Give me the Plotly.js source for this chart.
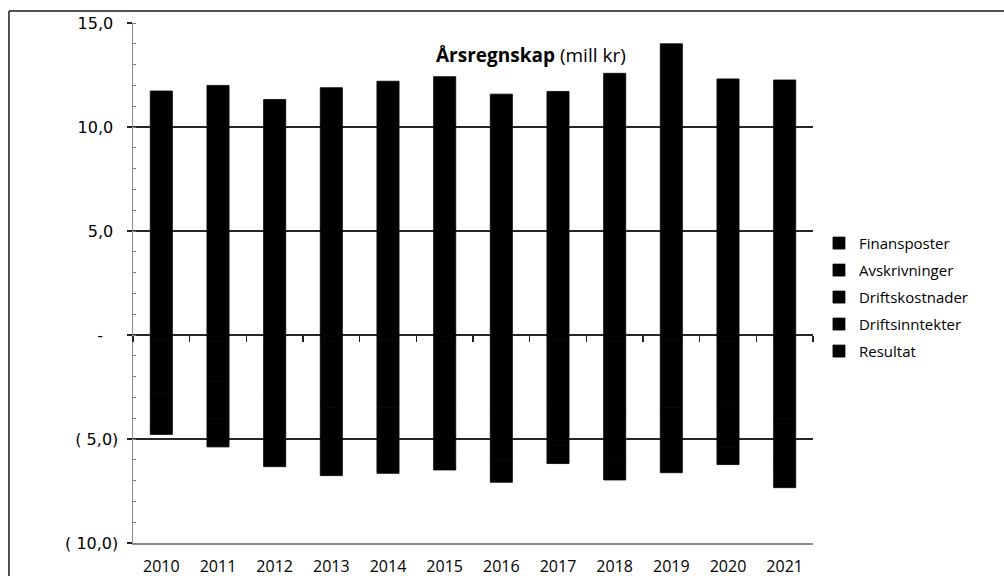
<!DOCTYPE html>
<html>
<head>
<meta charset="utf-8">
<script src="https://cdn.plot.ly/plotly-3.0.1.min.js"></script>
<style>html,body{margin:0;padding:0;background:#fff;}#chart{width:1004px;height:576px;}</style>
</head>
<body>
<div id="chart"></div>
<script>
// ---- data (mill kr) ----
const years = ['2010','2011','2012','2013','2014','2015','2016','2017','2018','2019','2020','2021'];
const resultat        = [-0.20, -0.30, -0.40, -0.30, -0.20, -0.30, -0.40, -0.20, -0.30, -0.20, -0.30, -0.40];
const driftsinntekter = [11.73, 12.00, 11.32, 11.89, 12.20, 12.42, 11.58, 11.71, 12.58, 14.00, 12.31, 12.26];
const driftskostnader = [-2.60, -1.95, -2.60, -3.20, -3.30, -3.00, -3.40, -3.10, -3.50, -3.30, -3.10, -3.60];
const avskrivninger   = [-1.50, -1.75, -2.00, -2.10, -2.00, -2.30, -2.20, -2.00, -2.10, -2.20, -2.00, -2.20];
const finansposter    = [-0.48, -1.38, -1.33, -1.16, -1.15, -0.89, -1.08, -0.88, -1.07, -0.92, -0.83, -1.14];
const yTickVals  = [15, 10, 5, 0, -5, -10];
const yTickText  = ['15,0\u00a0', '10,0\u00a0', '5,0\u00a0', '-\u00a0\u00a0\u00a0', '( 5,0)', '( 10,0)'];
const seriesNames = ['Resultat', 'Driftsinntekter', 'Driftskostnader', 'Avskrivninger', 'Finansposter'];
const seriesData  = [resultat, driftsinntekter, driftskostnader, avskrivninger, finansposter];
const legendRanks = [5, 4, 3, 2, 1];

const traces = seriesNames.map((n, i) => ({
  type: 'bar', name: n, x: years, y: seriesData[i],
  legendgroup: n, legendrank: legendRanks[i],
  marker: {color: '#000000', line: {width: 0.8, color: '#000000'}},
  hoverinfo: 'x+y+name'
}));
// invisible helper trace to host the tick axis at the zero line
traces.push({type: 'scatter', x: [0], y: [0], xaxis: 'x2', mode: 'none', showlegend: false, hoverinfo: 'skip'});

const layout = {
  width: 1004, height: 576,
  margin: {l: 133, r: 191, t: 23, b: 33, pad: 0},
  paper_bgcolor: '#ffffff', plot_bgcolor: '#ffffff',
  font: {family: 'Open Sans, sans-serif', color: '#000000', size: 15},
  barmode: 'relative', bargap: 0.61,
  showlegend: true,
  legend: {
    x: 1.0088, xanchor: 'left', y: 0.608, yanchor: 'top',
    traceorder: 'grouped', tracegroupgap: 4.5,
    font: {family: 'Open Sans, sans-serif', size: 15, color: '#000'},
    bgcolor: 'rgba(0,0,0,0)', borderwidth: 0
  },
  xaxis: {
    type: 'category', categoryorder: 'array', categoryarray: years,
    showline: true, linecolor: '#8c8c8c', linewidth: 1.5,
    ticks: '', showgrid: false, zeroline: false,
    tickfont: {family: 'Open Sans, sans-serif', size: 16, color: '#000'},
    ticklabelstandoff: 8, fixedrange: true
  },
  xaxis2: {
    overlaying: 'x', anchor: 'free', position: 0.4, side: 'bottom',
    range: [-0.5, 11.5], tickmode: 'linear', tick0: -0.5, dtick: 1,
    ticks: 'outside', ticklen: 6, tickwidth: 1.2, tickcolor: '#222',
    showticklabels: false, showline: false, showgrid: false, zeroline: false, fixedrange: true
  },
  yaxis: {
    range: [-10, 15], tickmode: 'array', tickvals: yTickVals, ticktext: yTickText,
    showline: true, linecolor: '#8c8c8c', linewidth: 1.5,
    ticks: 'outside', ticklen: 5, tickwidth: 1.5, tickcolor: '#262626',
    showgrid: true, gridcolor: '#262626', gridwidth: 1.6,
    zeroline: true, zerolinecolor: '#262626', zerolinewidth: 1.6,
    minor: {tickmode: 'linear', tick0: 0, dtick: 1, ticks: 'inside', ticklen: 3, tickwidth: 1, tickcolor: '#777', showgrid: false},
    tickfont: {family: 'DejaVu Sans, sans-serif', size: 16, color: '#000'},
    ticklabelstandoff: 5, fixedrange: true
  },
  annotations: [{
    xref: 'paper', yref: 'paper', x: 0.5846, y: 0.938, xanchor: 'center', yanchor: 'middle',
    text: '<b>Årsregnskap</b> (mill kr)', showarrow: false,
    font: {family: 'Open Sans, sans-serif', size: 19, color: '#000'}
  }],
  shapes: [
    {type: 'line', xref: 'paper', yref: 'paper', x0: -0.1824, x1: -0.1824, y0: 1.0231, y1: -0.08, line: {color: '#1a1a1a', width: 1.5}},
    {type: 'line', xref: 'paper', yref: 'paper', x0: -0.1824, x1: 1.30, y0: 1.0231, y1: 1.0231, line: {color: '#1a1a1a', width: 1.5}}
  ]
};

Plotly.newPlot('chart', traces, layout, {displayModeBar: false, staticPlot: true});
</script>
</body>
</html>
